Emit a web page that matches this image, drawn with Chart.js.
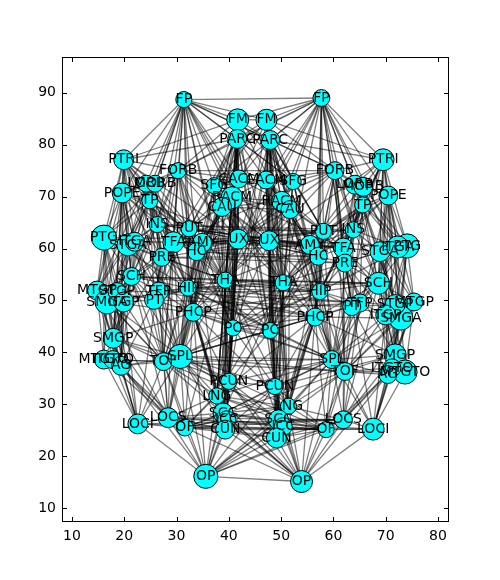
<!DOCTYPE html>
<html>
<head>
<meta charset="utf-8">
<script src="https://cdn.jsdelivr.net/npm/chart.js@4"></script>
<style>
  html, body { margin: 0; padding: 0; background: #fff; }
  canvas { display: block; }
</style>
</head>
<body>
<canvas id="net" width="500" height="580"></canvas>
<script>
// region names (same order in both hemispheres)
const nodeNames = ["FP","FM","PARC","PTRI","FORB","LORB","MORB","POPE","TP","SFG","CACM","RACM","CAU","INS","PUT","TFA","AMY","HC","PRE","UX",
  "PTG","STGA","ITGA","SCH","MTGP","SMGA","STGP","ITGP","TFP","PT","HIP","THA","PHCP","PC","SMGP","MTGTO","ITGTO","AG","TOF","SPL",
  "PCUN","LNG","SCC","ICC","CUN","LOCS","OF","LOCI","OP"];

const leftX = [31.4,41.7,41.6,19.9,30.3,24.2,25.9,19.6,24.9,37.2,41.9,40.6,38.7,26.3,32.4,29.4,34.9,33.8,27.2,41.8,
  16.1,20.7,22.0,21.4,14.8,16.7,18.6,19.9,26.6,25.7,32.2,39.3,33.2,40.8,17.9,16.1,17.8,19.4,27.5,30.7,
  40.0,37.7,38.9,39.6,39.3,28.4,31.6,22.6,35.6];
const leftY = [88.7,84.8,81.1,77.1,75.0,72.5,72.5,70.7,69.2,72.1,73.4,69.8,68.0,64.6,63.8,61.2,61.1,59.4,58.3,61.8,
  62.1,60.7,61.3,54.6,51.9,49.7,51.7,49.7,51.7,50.1,52.4,53.9,47.7,44.7,42.7,38.6,38.6,37.4,38.2,39.2,
  34.4,31.6,28.3,27.0,25.1,27.4,25.5,26.2,16.1];
const rightX = [57.7,47.2,47.9,69.5,60.3,64.1,65.7,70.5,65.6,52.3,47.1,50.1,51.7,63.8,58.1,61.9,55.5,57.1,62.2,47.7,
  74.1,68.9,72.3,68.6,75.4,72.9,71.8,70.0,65.1,63.5,57.4,50.4,56.5,47.9,71.8,73.7,71.2,70.4,62.2,59.7,
  48.8,51.4,49.5,50.4,49.1,61.9,58.6,67.6,53.9];
const rightY = [89.0,84.8,80.9,77.1,75.0,72.3,71.9,70.2,68.4,72.9,73.2,69.1,67.5,63.6,63.3,60.1,60.7,58.5,57.2,61.5,
  60.5,59.4,60.3,53.3,49.7,46.6,49.2,47.2,49.5,48.8,51.7,53.4,46.8,44.2,39.5,36.2,37.0,35.7,36.3,38.6,
  33.4,29.6,27.0,25.7,23.5,27.0,25.1,25.2,15.1];

// node size (networkx node_size units)
const leftSize = [210,390,290,320,210,230,230,320,210,210,260,390,290,210,210,360,290,260,260,320,
  510,390,290,260,290,470,260,320,290,290,210,210,260,210,320,290,260,290,260,470,
  210,210,320,260,290,320,230,320,470];
const rightSize = [230,360,290,390,260,290,290,290,210,210,260,320,260,210,210,320,290,260,260,320,
  470,320,390,390,260,470,320,320,260,260,210,210,260,210,390,470,260,260,260,260,
  210,210,320,260,320,260,210,390,390];

const xTicks = [10,20,30,40,50,60,70,80];
const yTicks = [10,20,30,40,50,60,70,80,90];

// connections inside the left hemisphere
const leftLinks = [
  "FP: FM PARC PTRI FORB LORB MORB POPE TP SFG CACM RACM INS TFA PRE STGA PUT HC THA PC HIP",
  "FM: PARC SFG CACM RACM CAU FORB PTRI UX THA PC PCUN PHCP SPL LNG",
  "PARC: SFG CACM RACM CAU UX THA PC PCUN SPL FORB PTRI SMGP PUT LNG SCC",
  "PTRI: FORB LORB MORB POPE TP INS PTG STGA ITGA SCH PRE TFA MTGP SMGP AG SPL UX THA",
  "FORB: LORB MORB TP SFG CACM INS TFA PUT AMY HC SCH PT PHCP TOF UX THA",
  "LORB: MORB POPE TP INS TFA PRE STGA SCH MTGP AMY HC",
  "MORB: POPE TP INS TFA AMY PTG SMGA",
  "POPE: TP INS PTG STGA ITGA SCH MTGP SMGA STGP PRE SMGP AG TOF PUT UX HC",
  "TP: INS TFA PRE PTG STGA ITGA SCH AMY HC TFP PT MTGP PUT HIP",
  "SFG: CACM RACM CAU PUT UX THA HIP PCUN SPL PHCP",
  "CACM: RACM CAU UX PUT THA PC AMY PCUN",
  "RACM: CAU UX PUT AMY HC THA PC PHCP LNG SCC",
  "CAU: UX PUT AMY HC THA HIP PHCP SCC PC",
  "INS: PUT TFA PRE STGA ITGA SCH HIP TFP SMGP SPL THA PHCP",
  "PUT: TFA AMY HC PRE UX THA HIP PHCP TFP SPL PC",
  "TFA: AMY HC PRE ITGA SCH TFP PT HIP PHCP TOF LOCS SPL",
  "AMY: HC UX THA HIP PHCP PC SPL",
  "HC: PRE UX THA HIP PHCP PC SPL LNG TOF",
  "PRE: ITGA SCH TFP PT HIP SMGA LOCI TOF",
  "UX: THA PC PHCP PCUN LNG SCC CUN",
  "PTG: STGA ITGA SCH MTGP SMGA STGP ITGP SMGP MTGTO LOCI UX THA HIP",
  "STGA: ITGA SCH MTGP SMGA STGP ITGP TFP SMGP AG THA PHCP",
  "ITGA: SCH STGP ITGP TFP PT",
  "SCH: MTGP SMGA STGP ITGP TFP PT HIP SMGP AG TOF LOCS SPL",
  "MTGP: SMGA STGP ITGP SMGP MTGTO ITGTO AG LOCI TOF LOCS",
  "SMGA: STGP ITGP SMGP MTGTO AG TOF SPL PHCP HIP",
  "STGP: ITGP TFP PT SMGP ITGTO AG",
  "ITGP: TFP PT SMGP ITGTO AG TOF LOCI",
  "TFP: PT HIP PHCP TOF SPL LOCS",
  "PT: HIP PHCP TOF SPL AG",
  "HIP: THA PHCP PC SPL TOF LNG LOCS SCC",
  "THA: PHCP PC PCUN SPL LNG SCC CUN ICC OF",
  "PHCP: PC SPL TOF PCUN LNG SCC ICC OF CUN LOCS",
  "PC: PCUN LNG SPL SCC CUN ICC",
  "SMGP: MTGTO ITGTO AG TOF SPL LOCI LOCS PHCP PCUN",
  "MTGTO: ITGTO AG TOF LOCI LOCS",
  "ITGTO: AG TOF LOCI LOCS OF",
  "AG: TOF SPL LOCI LOCS",
  "TOF: SPL LOCS OF LOCI LNG OP",
  "SPL: PCUN LOCS OF LNG SCC CUN LOCI",
  "PCUN: LNG SCC ICC CUN OF",
  "LNG: SCC ICC CUN OF OP LOCS",
  "SCC: ICC CUN OF OP LOCS",
  "ICC: CUN OF OP",
  "CUN: OF OP LOCS",
  "LOCS: OF LOCI OP",
  "OF: LOCI OP",
  "LOCI: OP",
  "OP: SPL PCUN PHCP AG"
];

// connections inside the right hemisphere
const rightLinks = [
  "FP: FM PARC PTRI FORB LORB MORB POPE TP SFG CACM RACM INS TFA PUT PRE HC ITGA THA HIP PHCP",
  "FM: PARC SFG CACM RACM CAU FORB UX THA PC PCUN PTRI SPL LNG",
  "PARC: SFG CACM RACM CAU UX THA PC PCUN SPL FORB SMGP PUT PTRI SCC LNG",
  "PTRI: FORB LORB MORB POPE TP INS PTG STGA ITGA SCH PRE TFA SMGA AG SPL UX HIP",
  "FORB: LORB MORB TP SFG CACM INS TFA PUT AMY HC SCH PT PRE TOF PHCP UX",
  "LORB: MORB POPE TP INS TFA PRE ITGA SCH STGP AMY",
  "MORB: POPE TP INS TFA AMY PTG MTGP PRE",
  "POPE: TP INS PTG STGA ITGA SCH MTGP SMGA ITGP SMGP TOF PUT HC",
  "TP: INS TFA PRE PTG STGA ITGA SCH AMY HC TFP PT STGP PUT HIP THA",
  "SFG: CACM RACM CAU PUT UX THA HIP AMY PCUN SPL",
  "CACM: RACM CAU UX PUT THA PC HC PCUN",
  "RACM: CAU UX PUT AMY HC THA PC PHCP HIP SCC",
  "CAU: UX PUT AMY HC THA HIP PHCP LNG",
  "INS: PUT TFA PRE STGA ITGA SCH HIP PT SPL THA",
  "PUT: TFA AMY HC PRE UX THA HIP PHCP PT PC SPL",
  "TFA: AMY HC PRE STGA SCH TFP PT HIP PHCP TOF SMGA LOCS",
  "AMY: HC UX THA HIP PHCP PC",
  "HC: PRE UX THA HIP PHCP PC SPL TOF LNG",
  "PRE: STGA SCH TFP PT HIP ITGP LOCI",
  "UX: THA PC PHCP PCUN LNG HIP SCC CUN",
  "PTG: STGA ITGA SCH MTGP SMGA STGP ITGP SMGP ITGTO UX HIP",
  "STGA: ITGA SCH MTGP SMGA STGP ITGP TFP MTGTO THA",
  "ITGA: SCH STGP ITGP TFP PT SMGA",
  "SCH: MTGP SMGA STGP ITGP TFP PT HIP SMGP AG PHCP SPL LOCS",
  "MTGP: SMGA STGP ITGP SMGP MTGTO ITGTO AG LOCI TOF LOCS",
  "SMGA: STGP ITGP SMGP MTGTO AG TOF SPL LOCI PHCP",
  "STGP: ITGP TFP PT SMGP ITGTO AG",
  "ITGP: TFP PT SMGP ITGTO AG TOF LOCI SPL",
  "TFP: PT HIP PHCP TOF SPL LOCS",
  "PT: HIP PHCP TOF SPL AG OF",
  "HIP: THA PHCP PC SPL TOF LNG SCC",
  "THA: PHCP PC PCUN SPL LNG SCC CUN ICC",
  "PHCP: PC SPL TOF PCUN LNG SCC ICC OF CUN",
  "PC: PCUN LNG SPL SCC CUN",
  "SMGP: MTGTO ITGTO AG TOF SPL LOCI LOCS PHCP PCUN",
  "MTGTO: ITGTO AG TOF LOCI",
  "ITGTO: AG TOF LOCI LOCS",
  "AG: TOF SPL LOCI LOCS OF",
  "TOF: SPL LOCS OF LOCI LNG OP",
  "SPL: PCUN LOCS OF LNG SCC LOCI",
  "PCUN: LNG SCC ICC CUN OF",
  "LNG: SCC ICC CUN OF OP LOCS",
  "SCC: ICC CUN OF OP LOCS",
  "ICC: CUN OF OP",
  "CUN: OF OP LOCS",
  "LOCS: OF LOCI OP",
  "OF: LOCI OP",
  "LOCI: OP",
  "OP: SPL PCUN PHCP AG"
];

// left region - right region
const crossLinks = ["FP-FP","FP-FM","FM-FP","FM-FM","FM-PARC","PARC-FM","PARC-PARC","FM-SFG","SFG-FM","SFG-SFG",
  "CACM-CACM","CACM-RACM","RACM-CACM","RACM-RACM","PARC-CACM","CACM-PARC","CAU-CAU","UX-UX","UX-CAU","CAU-UX",
  "UX-THA","THA-UX","THA-THA","PUT-PUT","AMY-AMY","HC-HC","HIP-HIP","THA-HIP","HIP-THA","PHCP-PHCP",
  "PC-PC","PC-THA","THA-PC","PC-PCUN","PCUN-PC","PCUN-PCUN","PARC-PCUN","PCUN-PARC","LNG-LNG","SCC-SCC",
  "ICC-ICC","CUN-CUN","SCC-LNG","LNG-SCC","PCUN-CUN","CUN-PCUN","OP-OP","OP-CUN","CUN-OP","OP-SCC",
  "SCC-OP","OP-LNG","LNG-OP","OF-OF","OF-CUN","CUN-OF","SPL-SPL","TFA-TFA","PRE-PRE","INS-INS",
  "FP-FORB","FORB-FP","UX-PC","PC-UX","FORB-FORB","TOF-TOF","PHCP-THA","THA-PHCP","LOCS-LOCS","SPL-PCUN",
  "PCUN-SPL","FP-SFG","SFG-FP","OP-OF","OF-OP",
  "FORB-TFA","TFA-FORB","PUT-AMY","AMY-PUT","HC-AMY","UX-HC","HC-UX","PC-PHCP","PHCP-PC","SPL-PC",
  "PC-SPL","TOF-PHCP","LNG-OF","OF-LNG","SCC-OF","LOCS-OF","OF-LOCS","CACM-SFG","SFG-CACM","RACM-CAU",
  "CAU-RACM","HIP-PHCP","PHCP-HIP","PUT-HC","INS-PUT","FM-RACM","RACM-FM","PARC-SFG","PARC-UX","UX-PARC",
  "FP-PARC","PARC-FP","TFP-TFP","PT-PT","SCH-SCH","HIP-TFP","TFP-HIP","SPL-HIP","HIP-SPL","OP-LOCS",
  "TFA-PUT","PUT-TFA","INS-AMY","AMY-INS","PRE-HC","HC-PRE","SCH-HIP","HIP-SCH","TFP-PHCP","PHCP-TFP",
  "SPL-PHCP","PHCP-SPL","TOF-SPL","SPL-TOF","LOCI-LOCS","LOCS-LOCI","FM-PC","PC-FM","PARC-PC","PC-PARC",
  "SFG-THA","THA-SFG","FP-UX","UX-FP","FP-THA","THA-FP","FORB-UX","UX-FORB","TFA-UX","UX-TFA",
  "INS-THA","THA-INS","SCH-THA","THA-SCH","PRE-PC","PC-PRE","HIP-PC","PC-HIP","THA-SCC","SCC-THA",
  "THA-LNG","LNG-THA","PHCP-LNG","LNG-PHCP","PCUN-SCC","SCC-PCUN","SPL-LNG","LNG-SPL","TOF-OF","OF-TOF",
  "AMY-UX","UX-AMY","CAU-THA","THA-CAU","RACM-UX","UX-RACM",
  "OP-PCUN","PCUN-OP","OP-ICC","ICC-OP","OP-TOF","TOF-OP","LOCI-OF","OF-LOCI","SPL-SCC","SCC-SPL"];

const n = nodeNames.length;
const allX = leftX.concat(rightX);
const allY = leftY.concat(rightY);
const allSize = leftSize.concat(rightSize);
const allNames = nodeNames.concat(nodeNames);

function id(name) {
  const i = nodeNames.indexOf(name);
  if (i < 0) console.error("unknown node " + name);
  return i;
}

const edges = [];
leftLinks.forEach(line => {
  const [a, rest] = line.split(":");
  rest.trim().split(/\s+/).forEach(b => edges.push([id(a.trim()), id(b)]));
});
rightLinks.forEach(line => {
  const [a, rest] = line.split(":");
  rest.trim().split(/\s+/).forEach(b => edges.push([id(a.trim()) + n, id(b) + n]));
});
crossLinks.forEach(pair => {
  const [a, b] = pair.split("-");
  edges.push([id(a), id(b) + n]);
});

const FONT = "DejaVu Sans";

// node labels on top of everything
const labelPlugin = {
  id: "labels",
  afterDatasetsDraw(chart) {
    const { ctx, scales: { x, y } } = chart;
    ctx.save();
    ctx.font = "14px '" + FONT + "'";
    ctx.fillStyle = "#000";
    ctx.textAlign = "center";
    ctx.textBaseline = "middle";
    allNames.forEach((name, i) => {
      ctx.fillText(name, x.getPixelForValue(allX[i]), y.getPixelForValue(allY[i]));
    });
    ctx.restore();
  }
};

// box and inward ticks like matplotlib
const framePlugin = {
  id: "frame",
  afterDraw(chart) {
    const { ctx, chartArea: a, scales: { x, y } } = chart;
    ctx.save();
    ctx.strokeStyle = "#000";
    ctx.lineWidth = 1;
    ctx.strokeRect(a.left + 0.5, a.top + 0.5, a.right - a.left - 1, a.bottom - a.top - 1);
    ctx.beginPath();
    xTicks.forEach(v => {
      const px = Math.round(x.getPixelForValue(v)) + 0.5;
      ctx.moveTo(px, a.bottom); ctx.lineTo(px, a.bottom - 5);
      ctx.moveTo(px, a.top); ctx.lineTo(px, a.top + 5);
    });
    yTicks.forEach(v => {
      const py = Math.round(y.getPixelForValue(v)) + 0.5;
      ctx.moveTo(a.left, py); ctx.lineTo(a.left + 5, py);
      ctx.moveTo(a.right, py); ctx.lineTo(a.right - 5, py);
    });
    ctx.stroke();
    ctx.restore();
  }
};

const nodeSet = {
  data: allX.map((x, i) => ({ x: x, y: allY[i] })),
  pointRadius: allSize.map(s => Math.sqrt(s) * 80 / 72 / 2),
  pointBackgroundColor: "#00ffff",
  pointBorderColor: "#000",
  pointBorderWidth: 1,
  pointHoverRadius: allSize.map(s => Math.sqrt(s) * 80 / 72 / 2)
};

const edgeSets = edges.map(([a, b]) => ({
  data: [{ x: allX[a], y: allY[a] }, { x: allX[b], y: allY[b] }],
  showLine: true,
  borderColor: "rgba(0,0,0,0.5)",
  borderWidth: 1.3,
  pointRadius: 0,
  pointHoverRadius: 0
}));

new Chart(document.getElementById("net"), {
  type: "scatter",
  data: { datasets: [nodeSet].concat(edgeSets) },
  options: {
    responsive: false,
    animation: false,
    devicePixelRatio: 1,
    layout: { padding: { left: 0, top: 57, right: 51, bottom: 0 } },
    plugins: { legend: { display: false }, tooltip: { enabled: false } },
    events: [],
    scales: {
      x: {
        type: "linear",
        min: 8.1,
        max: 82.1,
        afterBuildTicks: s => { s.ticks = xTicks.map(v => ({ value: v })); },
        afterFit: s => { s.height = 58; },
        grid: { display: false, drawTicks: false },
        border: { display: false },
        ticks: { color: "#000", padding: 6, font: { family: FONT, size: 14 } }
      },
      y: {
        type: "linear",
        min: 7.3,
        max: 96.9,
        afterBuildTicks: s => { s.ticks = yTicks.map(v => ({ value: v })); },
        afterFit: s => { s.width = 62; },
        grid: { display: false, drawTicks: false },
        border: { display: false },
        ticks: { color: "#000", padding: 6, font: { family: FONT, size: 14 } }
      }
    }
  },
  plugins: [labelPlugin, framePlugin]
});
</script>
</body>
</html>
